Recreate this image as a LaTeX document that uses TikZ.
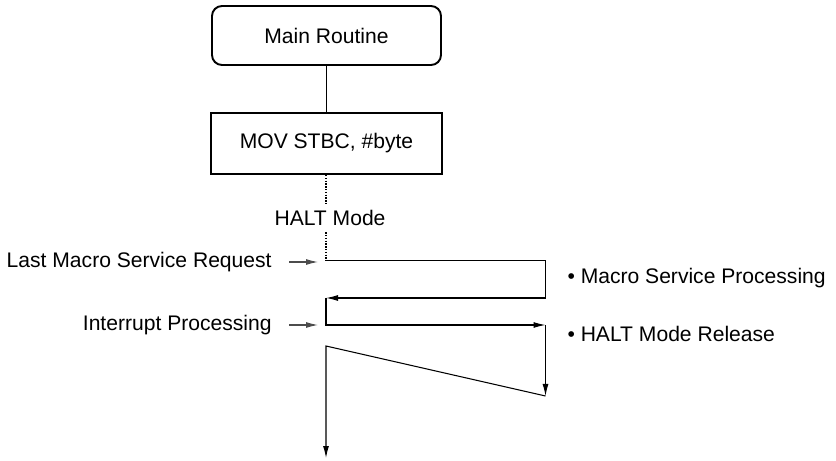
\documentclass[tikz,border=0pt]{standalone}
\usepackage{fontspec}
\setmainfont{Liberation Sans}
\usetikzlibrary{arrows.meta, positioning}

\begin{document}
\begin{tikzpicture}[line width=0.6pt, every node/.style={font=\fontsize{12}{14}\selectfont},
    >={Latex[length=2.4mm,width=1.2mm]},
    halted/.style={dash pattern=on 0.8pt off 0.8pt}]
  \useasboundingbox (0,0) rectangle (16.72,-9.22);
  % boxes
  \node[draw, line width=1.1pt, rounded corners=0.2cm, minimum width=4.58cm, minimum height=1.18cm] (main) at (6.53,-0.71) {Main Routine};
  \node[draw, line width=1.1pt, minimum width=4.62cm, minimum height=1.22cm] (mov) at (6.53,-2.87) {MOV STBC, \#byte};
  \draw (main) -- (mov);
  % time line
  \coordinate (c1) at (6.52,-5.21);
  \coordinate (c2) at (10.91,-5.21);
  \coordinate (c3) at (10.91,-5.96);
  \coordinate (c4) at (6.52,-5.96);
  \coordinate (c5) at (6.52,-6.5);
  \coordinate (c6) at (10.91,-6.5);
  \coordinate (c7) at (10.91,-7.92);
  \coordinate (c8) at (6.52,-6.92);
  \coordinate (c9) at (6.52,-9.16);
  \node (halt) at (6.6,-4.36) {HALT Mode};
  \draw[halted] (mov.south -| c1) -- (halt.north -| c1);
  \draw[halted] (halt.south -| c1) -- (c1);
  \draw[->] (c1) -- (c2) -- (c3) -- (c4);
  \draw[->] (c4) -- (c5) -- (c6);
  \draw[->] (c6) -- (c7);
  \draw[->] (c7) -- (c8) -- (c9);
  % requests
  \node[left=0.96cm of c1, yshift=-0.03cm] (req) {Last Macro Service Request};
  \node[left=0.96cm of c5] (intp) {Interrupt Processing};
  \foreach \src/\dst in {req/c1, intp/c5}
    \draw[->, black!70, shorten <=0.22cm, shorten >=0.16cm] (\src.east) -- (\src.east -| \dst);
  % notes
  \node[right, inner sep=0pt] (msp) at (11.34,-5.56) {\textbullet\ Macro Service Processing};
  \node[right, inner sep=0pt] (rel) at (11.34,-6.68) {\textbullet\ HALT Mode Release};
\end{tikzpicture}
\end{document}
